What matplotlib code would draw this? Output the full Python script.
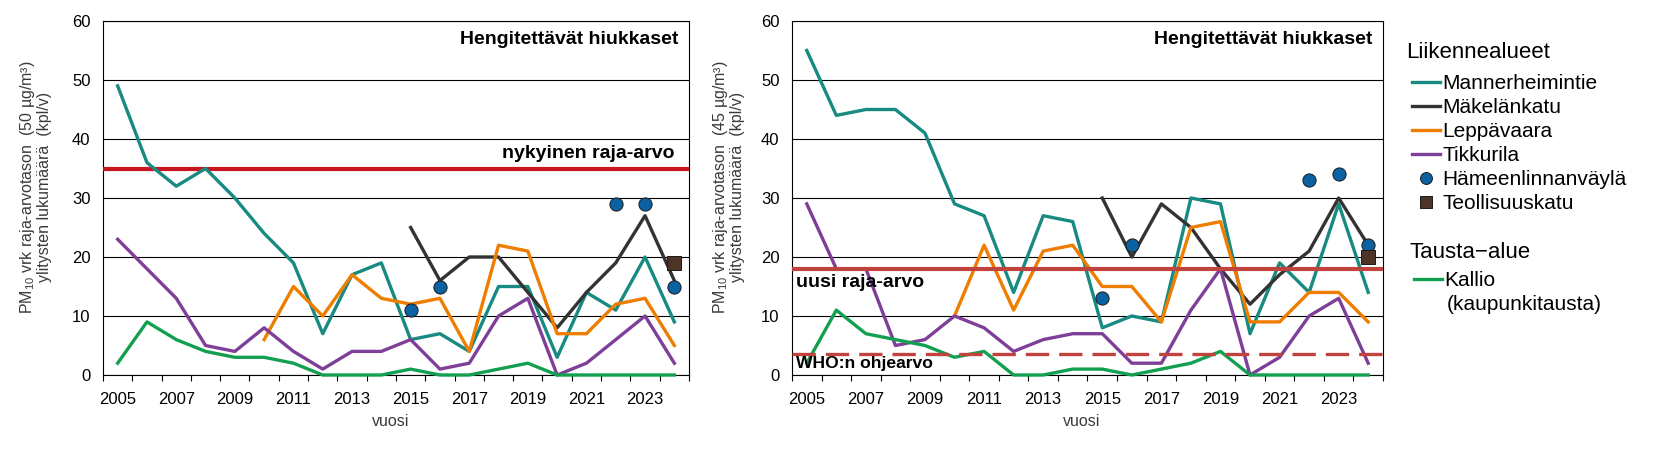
import matplotlib
matplotlib.use('Agg')
import matplotlib.pyplot as plt
from matplotlib import font_manager
import numpy as np

nan = np.nan
years = list(range(2005, 2025))
label_years = list(range(2005, 2024, 2))

# vasen kuva: 50 ug/m3 ylitykset
mannerheimintie_50 = [49, 36, 32, 35, 30, 24, 19, 7, 17, 19, 6, 7, 4, 15, 15, 3, 14, 11, 20, 9]
makelankatu_50 = [nan] * 10 + [25, 16, 20, 20, 14, 8, 14, 19, 27, 16]
leppavaara_50 = [nan] * 5 + [6, 15, 10, 17, 13, 12, 13, 4, 22, 21, 7, 7, 12, 13, 5]
tikkurila_50 = [23, 18, 13, 5, 4, 8, 4, 1, 4, 4, 6, 1, 2, 10, 13, 0, 2, 6, 10, 2]
hameenlinnanvayla_50 = [nan] * 10 + [11, 15, nan, nan, nan, nan, nan, 29, 29, 15]
teollisuuskatu_50 = [nan] * 19 + [19]
kallio_50 = [2, 9, 6, 4, 3, 3, 2, 0, 0, 0, 1, 0, 0, 1, 2, 0, 0, 0, 0, 0]
raja_arvo_50 = 35

# oikea kuva: 45 ug/m3 ylitykset
mannerheimintie_45 = [55, 44, 45, 45, 41, 29, 27, 14, 27, 26, 8, 10, 9, 30, 29, 7, 19, 14, 29, 14]
makelankatu_45 = [nan] * 10 + [30, 20, 29, 25, 18, 12, 17, 21, 30, 22]
leppavaara_45 = [nan] * 5 + [10, 22, 11, 21, 22, 15, 15, 9, 25, 26, 9, 9, 14, 14, 9]
tikkurila_45 = [29, 18, 18, 5, 6, 10, 8, 4, 6, 7, 7, 2, 2, 11, 18, 0, 3, 10, 13, 2]
hameenlinnanvayla_45 = [nan] * 10 + [13, 22, nan, nan, nan, nan, nan, 33, 34, 22]
teollisuuskatu_45 = [nan] * 19 + [20]
kallio_45 = [2, 11, 7, 6, 5, 3, 4, 0, 0, 1, 1, 0, 1, 2, 4, 0, 0, 0, 0, 0]
uusi_raja_arvo = 18
who_ohjearvo = 3.6

names = ['Mannerheimintie', 'Mäkelänkatu', 'Leppävaara', 'Tikkurila',
         'Hämeenlinnanväylä', 'Teollisuuskatu', 'Kallio']
colors = ['#178a82', '#333333', '#ef7d00', '#7e3f98', '#0b62a3', '#4d3426', '#12a050']

plt.rcParams['font.family'] = ['Liberation Sans', 'DejaVu Sans']
plt.rcParams['mathtext.fontset'] = 'custom'
plt.rcParams['mathtext.rm'] = 'Liberation Sans'
plt.rcParams['mathtext.default'] = 'regular'


def has_font(name):
    try:
        font_manager.findfont(font_manager.FontProperties(family=name),
                              fallback_to_default=False)
        return True
    except Exception:
        return False


if has_font('Liberation Sans Narrow'):
    note = dict(family='Liberation Sans Narrow', fontweight='bold', fontsize=16.5)
else:
    note = dict(family='Liberation Sans', fontweight='bold', fontsize=14)

W, H = 1653, 454
fig = plt.figure(figsize=(W / 100, H / 100), dpi=100)
ax1 = fig.add_axes([103 / W, 1 - 375 / H, 586 / W, 354 / H])
ax2 = fig.add_axes([792 / W, 1 - 375 / H, 591 / W, 354 / H])


def draw(ax, series, unit, ylab_x):
    handles = []
    for i, vals in enumerate(series):
        vals = np.array(vals, dtype=float)
        if i in (4, 5):
            mk = 'o' if i == 4 else 's'
            h, = ax.plot(years, vals, linestyle='none', marker=mk, markersize=9.5,
                         markerfacecolor=colors[i], markeredgecolor='#1a1a1a',
                         markeredgewidth=0.7, zorder=6, clip_on=False)
        else:
            h, = ax.plot(years, vals, color=colors[i], lw=2.4, zorder=4, clip_on=False)
        handles.append(h)

    ax.set_xlim(2004.5, 2024.5)
    ax.set_ylim(0, 60)
    ax.set_yticks(range(0, 61, 10))
    ax.set_xticks(label_years)
    ax.set_xticks(np.arange(2004.5, 2025, 1), minor=True)
    ax.tick_params(axis='x', which='major', length=0, pad=12, labelsize=12)
    ax.tick_params(axis='x', which='minor', length=4.5, width=0.8, direction='out')
    ax.tick_params(axis='y', length=0, pad=9, labelsize=12)
    ax.grid(axis='y', color='black', lw=0.8, zorder=1)
    ax.set_axisbelow(True)
    for s in ax.spines.values():
        s.set_color('black')
        s.set_linewidth(0.8)

    ax.set_ylabel('PM$_{10}$ vrk raja-arvotason  (%s µg/m³)\nylitysten lukumäärä  (kpl/v)' % unit,
                  fontsize=11.5, color='#3a3a3a', linespacing=1.0)
    ax.yaxis.set_label_coords(ylab_x, 0.53)
    ax.set_xlabel('vuosi', fontsize=11.5, color='#3a3a3a')
    ax.xaxis.set_label_coords(0.49, -0.11)

    ax.text(0.982, 0.949, 'Hengitettävät hiukkaset', transform=ax.transAxes,
            ha='right', va='center', color='black', zorder=8, **note)
    return handles


draw(ax1, [mannerheimintie_50, makelankatu_50, leppavaara_50, tikkurila_50,
           hameenlinnanvayla_50, teollisuuskatu_50, kallio_50], '50', -0.087)
hs = draw(ax2, [mannerheimintie_45, makelankatu_45, leppavaara_45, tikkurila_45,
                hameenlinnanvayla_45, teollisuuskatu_45, kallio_45], '45', -0.08)

# raja-arvot
ax1.axhline(raja_arvo_50, color='#c9151e', lw=3, zorder=3)
ax1.text(0.975, 37.6, 'nykyinen raja-arvo', transform=ax1.get_yaxis_transform(),
         ha='right', va='center', color='black', zorder=8, **note)

ax2.axhline(uusi_raja_arvo, color='#c0443d', lw=3, zorder=5)
ax2.axhline(who_ohjearvo, color='#c0443d', lw=2.4, dashes=(7, 3), zorder=5)
ax2.text(0.007, 15.6, 'uusi raja-arvo', transform=ax2.get_yaxis_transform(),
         ha='left', va='center', color='black', zorder=8, **note)
who_note = dict(note)
who_note['fontsize'] = note['fontsize'] * 0.9
ax2.text(0.007, 1.9, 'WHO:n ohjearvo', transform=ax2.get_yaxis_transform(),
         ha='left', va='center', color='black', zorder=8, **who_note)

# selite
fig.text(1406 / W, 1 - 52 / H, 'Liikennealueet', fontsize=16, va='center')
fig.legend(handles=hs[:6], labels=names[:6], loc='upper left',
           bbox_to_anchor=(1412 / W, 1 - 74 / H), frameon=False, fontsize=15,
           handlelength=1.35, handletextpad=0.12, labelspacing=0.24,
           borderpad=0, borderaxespad=0, markerscale=0.9)
fig.text(1409 / W, 1 - 252 / H, 'Tausta\u2212alue', fontsize=16, va='center')
fig.legend(handles=[hs[6]], labels=[names[6]], loc='upper left',
           bbox_to_anchor=(1414 / W, 1 - 271 / H), frameon=False, fontsize=15,
           handlelength=1.35, handletextpad=0.12, borderpad=0, borderaxespad=0)
fig.text(1447 / W, 1 - 304 / H, '(kaupunkitausta)', fontsize=15, va='center')

fig.savefig('out.png', dpi=100)
